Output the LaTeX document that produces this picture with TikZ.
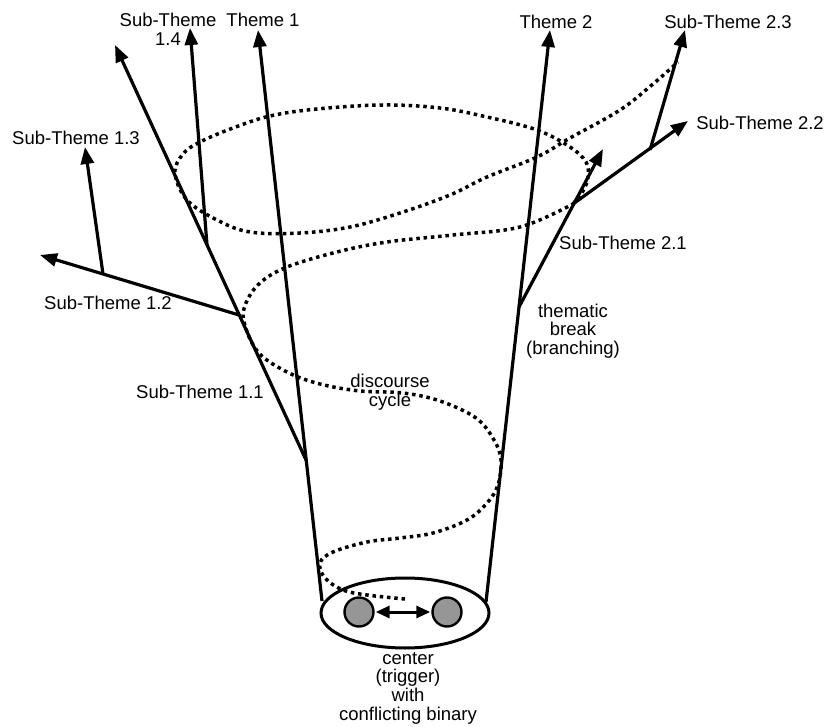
\documentclass[tikz,border=0pt]{standalone}
\usepackage{fontspec}
\setmainfont{Liberation Sans}
\usetikzlibrary{arrows.meta,shapes.geometric}

\definecolor{poleGray}{RGB}{150,150,150}

\begin{document}
\begin{tikzpicture}[x=1pt, y=-1pt,
    every node/.style={font=\fontsize{18.5}{18.7}\selectfont, inner sep=0pt},
    trunk/.style={line width=3.2pt},
    branch/.style={line width=3.2pt, -{Triangle[length=17pt, width=13pt]}},
    pole/.style={circle, draw, line width=2.4pt, fill=poleGray, minimum size=29pt},
    dotspiral/.style={line width=3.5pt, dash pattern=on 3.5pt off 3.8pt}]
    \useasboundingbox (0,0) rectangle (825,727);

    % 1. the centre with the two poles
    \node[ellipse, draw, line width=3pt, minimum width=168pt, minimum height=70pt] (core) at (405,613) {};
    \node[pole] (poleL) at (359,612) {};
    \node[pole] (poleR) at (447,612) {};
    \draw[line width=3pt, {Triangle[length=14pt, width=12pt]}-{Triangle[length=14pt, width=12pt]}, shorten <=1pt, shorten >=1pt] (poleL) -- (poleR);
    \node[align=center] (trigger) at (408,688) {center\\(trigger)\\with\\conflicting binary};

    % 2. points of the two themes
    \coordinate (t1base) at (322,601);
    \coordinate (t1tip)  at (258,30);
    \coordinate (t2base) at (486,602);
    \coordinate (t2tip)  at (550,30);
    % branches of theme 1
    \coordinate (b11) at (306,460);
    \coordinate (s11tip) at (115,45);
    \coordinate (b12) at (239,315);
    \coordinate (s12tip) at (40,255);
    \coordinate (b13) at (103,274);
    \coordinate (s13tip) at (85,147);
    \coordinate (b14) at (207,245);
    \coordinate (s14tip) at (190,28);
    % branches of theme 2
    \coordinate (b21) at (519,307);
    \coordinate (s21tip) at (603,149);
    \coordinate (b22) at (573,204);
    \coordinate (s22tip) at (688,121);
    \coordinate (b23) at (650,150);
    \coordinate (s23tip) at (685,30);

    % 3. the discourse cycle (dotted spiral)
    \draw[dotspiral] plot[smooth, tension=0.6] coordinates {
        (405,599) (367,595) (343,590) (325,578) (320,563) (333,552) (367,542)
        (400,538) (433,533) (467,520) (487,503) (498,485) (501,460) (494,440)
        (476,418) (440,401) (403,393) (360,391) (320,384) (287,372) (258,352)
        (244,322) (246,303) (260,283) (287,267) (337,252) (387,242) (453,235)
        (520,227) (573,204)};
    \draw[dotspiral] plot[smooth, tension=0.6] coordinates {
        (573,204) (583,191) (588,177) (586,162) (570,147) (537,130) (487,117)
        (440,108) (383,105) (317,109) (270,116) (233,128) (200,142) (183,154)
        (175,173) (187,200) (217,220) (250,232) (300,233) (350,227) (400,213)
        (450,195) (487,177) (537,157) (570,138) (620,110) (653,84) (678,62)};

    % 4. theme lines and sub-theme branches
    \draw[branch] (t1base) -- (t1tip);
    \draw[branch] (t2base) -- (t2tip);
    \draw[branch] (b11) -- (s11tip);
    \draw[branch] (b12) -- (s12tip);
    \draw[branch] (b13) -- (s13tip);
    \draw[branch] (b14) -- (s14tip);
    \draw[branch] (b21) -- (s21tip);
    \draw[branch] (b22) -- (s22tip);
    \draw[branch] (b23) -- (s23tip);

    % 5. labels
    \node (lt1) at (263,20) {Theme 1};
    \node (lt2) at (556,22) {Theme 2};
    \node[align=center] (l14) at (168,29) {Sub-Theme\\1.4};
    \node (l13) at (76,138) {Sub-Theme 1.3};
    \node (l12) at (108,303) {Sub-Theme 1.2};
    \node (l11) at (200,392) {Sub-Theme 1.1};
    \node (l23) at (728,22) {Sub-Theme 2.3};
    \node (l22) at (760,123) {Sub-Theme 2.2};
    \node (l21) at (623,243) {Sub-Theme 2.1};
    \node[align=center] (lbreak) at (573,331) {thematic\\break\\(branching)};
    \node[align=center] (lcycle) at (390,392) {discourse\\cycle};
\end{tikzpicture}
\end{document}
